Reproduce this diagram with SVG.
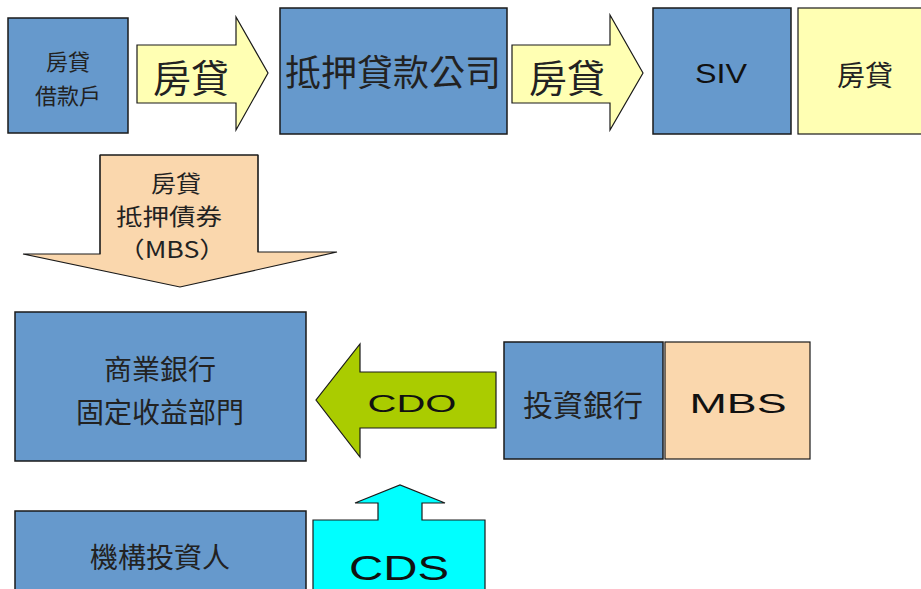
<svg xmlns="http://www.w3.org/2000/svg" width="921" height="589" viewBox="0 0 921 589">
<style>
.box{fill:#6699CC;stroke:#1a1a1a;stroke-width:1.5}
.yel{fill:#FFFFB3;stroke:#1a1a1a;stroke-width:1.2}
.peach{fill:#FAD7AD;stroke:#1a1a1a;stroke-width:1.2}
.cjk{font-family:"Noto Sans CJK TC","Liberation Sans",sans-serif;fill:#222;text-anchor:middle}
.lat{font-family:"Liberation Sans","Noto Sans CJK TC",sans-serif;fill:#111;text-anchor:middle}
</style>
<rect width="921" height="589" fill="#fff"/>
<g id="connectors">
  <g id="arrow-mortgage1">
    <polygon class="yel" points="137,45 236,45 236,17 268,73 236,130 236,103 137,103"/>
    <text class="cjk" x="191" y="92" font-size="38">房貸</text>
  </g>
  <g id="arrow-mortgage2">
    <polygon class="yel" points="512,45 610,45 610,15 643,73 610,130 610,103 512,103"/>
    <text class="cjk" x="567" y="92" font-size="38">房貸</text>
  </g>
  <g id="arrow-mbs">
    <polygon class="peach" stroke="none" points="100,155 258,155 258,252 337,252 180,287 23,254 100,254"/>
    <polyline fill="none" stroke="#1a1a1a" stroke-width="1" points="100,254 100,155 258,155 258,252"/>
    <text class="cjk" x="176" y="192" font-size="22.5" textLength="50" lengthAdjust="spacingAndGlyphs">房貸</text>
    <text class="cjk" x="169" y="225" font-size="22.5" textLength="106" lengthAdjust="spacingAndGlyphs">抵押債券</text>
    <text class="cjk" x="172" y="258" font-size="22.5" textLength="108" lengthAdjust="spacingAndGlyphs">（MBS）</text>
  </g>
  <g id="arrow-cdo">
    <polygon fill="#AACC00" stroke="#1a1a1a" stroke-width="1.2" points="496,372 360,372 360,344 316,400 360,457 360,428 496,428"/>
    <text class="lat" x="412" y="412" font-size="24" textLength="89" lengthAdjust="spacingAndGlyphs">CDO</text>
  </g>
</g>
<g id="borrower">
  <rect class="box" x="8" y="18" width="120" height="115"/>
  <text class="cjk" x="68" y="70" font-size="22">房貸</text>
  <text class="cjk" x="68" y="104" font-size="22">借款戶</text>
</g>
<g id="mortgage-company">
  <rect class="box" x="280" y="8" width="227" height="126"/>
  <text class="cjk" x="393" y="86" font-size="36">抵押貸款公司</text>
</g>
<g id="siv">
  <rect class="box" x="653" y="8" width="138" height="126"/>
  <text class="lat" x="721" y="83" font-size="28" textLength="52" lengthAdjust="spacingAndGlyphs">SIV</text>
</g>
<g id="siv-mortgage">
  <rect class="yel" x="798" y="8" width="140" height="126"/>
  <text class="cjk" x="865" y="86" font-size="28">房貸</text>
</g>
<g id="commercial-bank">
  <rect class="box" x="15" y="312" width="291" height="149"/>
  <text class="cjk" x="160" y="380" font-size="28">商業銀行</text>
  <text class="cjk" x="160" y="423" font-size="28">固定收益部門</text>
</g>
<g id="investment-bank">
  <rect class="box" x="504" y="342" width="159" height="117"/>
  <text class="cjk" x="583" y="416" font-size="30">投資銀行</text>
</g>
<g id="mbs">
  <rect class="peach" x="665" y="342" width="145" height="117"/>
  <text class="lat" x="738" y="413" font-size="28" textLength="97" lengthAdjust="spacingAndGlyphs">MBS</text>
</g>
<g id="institutional-investor">
  <rect class="box" x="15" y="511" width="291" height="90"/>
  <text class="cjk" x="160" y="568" font-size="28">機構投資人</text>
</g>
<g id="cds">
  <polygon fill="#00FFFF" stroke="#1a1a1a" stroke-width="1.2" points="313,520 378,520 378,503 355,503 400,485 445,503 422,503 422,520 485,520 485,600 313,600"/>
  <text class="lat" x="399" y="580" font-size="35" textLength="100" lengthAdjust="spacingAndGlyphs">CDS</text>
</g>
</svg>
